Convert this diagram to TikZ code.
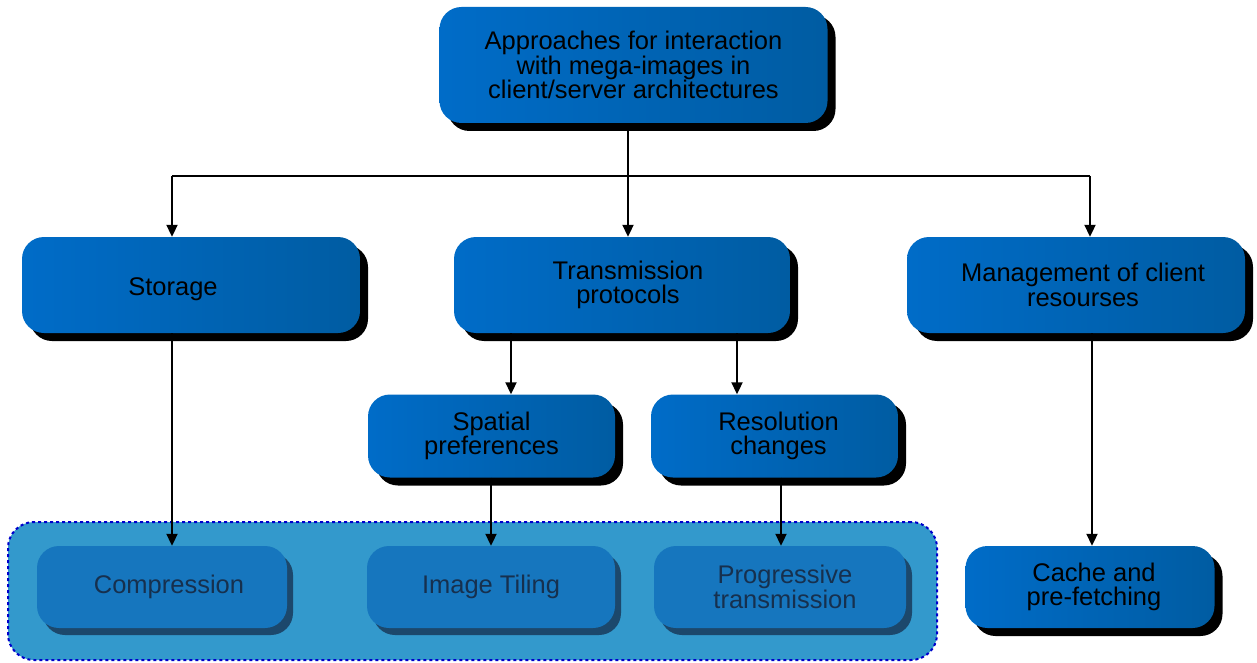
\documentclass[tikz,border=0pt]{standalone}
\usepackage{fontspec}
\setmainfont{Liberation Sans}
\usetikzlibrary{shadows,arrows.meta}
\definecolor{bl}{RGB}{0,108,200}
\definecolor{br}{RGB}{0,92,162}
\definecolor{grp}{RGB}{51,153,204}
\definecolor{fbox}{RGB}{22,118,190}
\definecolor{fshad}{RGB}{28,72,108}
\definecolor{ftxt}{RGB}{22,48,78}
\definecolor{dash}{RGB}{0,0,204}
\tikzset{
  mainbox/.style={rounded corners=22pt, left color=bl, right color=br, draw=none,
    drop shadow={shadow xshift=8pt, shadow yshift=-8pt, fill=black, opacity=1},
    align=center, font=\fontsize{25.5}{24.5}\selectfont, text=black, inner sep=0pt},
  fadebox/.style={rounded corners=22pt, fill=fbox, draw=none,
    drop shadow={shadow xshift=6pt, shadow yshift=-7pt, fill=fshad, opacity=1},
    align=center, font=\fontsize{25.5}{24.5}\selectfont, text=ftxt, inner sep=0pt},
  group/.style={rounded corners=26pt, fill=grp, draw=dash, dashed, line width=2pt},
  arr/.style={-{Triangle[length=12pt,width=11pt]}, line width=2pt, black},
  ln/.style={line width=2pt, black}
}
\begin{document}
\begin{tikzpicture}[x=1pt,y=-1pt]
\useasboundingbox (0,0) rectangle (1257,663);
\node[mainbox, minimum width=388pt, minimum height=116pt] (top) at (633.5,65)
  {Approaches for interaction\\with mega-images in\\client/server architectures};
\node[mainbox, minimum width=338pt, minimum height=96pt] (storage) at (191,285)
  {\raisebox{0pt}[\dimexpr\height+9pt\relax]{Storage}\hspace*{36pt}};
\node[mainbox, minimum width=336pt, minimum height=96pt] (trans) at (622,285)
  {\hspace*{12pt}Transmission\\\hspace*{12pt}protocols};
\node[mainbox, minimum width=338pt, minimum height=96pt] (mgmt) at (1076,285)
  {\hspace*{14pt}Management of client\\\hspace*{14pt}resourses};
\node[mainbox, minimum width=247pt, minimum height=83pt] (spatial) at (491.5,436)
  {Spatial\\preferences};
\node[mainbox, minimum width=247pt, minimum height=83pt] (resol) at (774.5,436)
  {\hspace*{8pt}Resolution\\\hspace*{8pt}changes};
\node[group, minimum width=929pt, minimum height=138pt] (grp) at (472.5,591) {};
\node[fadebox, minimum width=250pt, minimum height=82pt] (comp) at (162,587)
  {\hspace*{14pt}Compression};
\node[fadebox, minimum width=248pt, minimum height=82pt] (tiling) at (491,587)
  {Image Tiling};
\node[fadebox, minimum width=252pt, minimum height=82pt] (prog) at (780,587)
  {\hspace*{10pt}Progressive\\\hspace*{10pt}transmission};
\node[mainbox, minimum width=249pt, minimum height=82pt] (cache) at (1090,587)
  {\hspace*{8pt}Cache and\\\hspace*{8pt}pre-fetching};
% connectors
\coordinate (bus) at (628,176);
\coordinate (bl) at (172,176);
\coordinate (br) at (1090,176);
\draw[ln] (bus |- top.south) -- (bus);
\draw[ln] (bl) -- (br);
\draw[arr] (bl) -- (bl |- storage.north);
\draw[arr] (bus) -- (bus |- trans.north);
\draw[arr] (br) -- (br |- mgmt.north);
\coordinate (x1) at (172,0);
\draw[arr] (x1 |- storage.south) -- (x1 |- comp.north);
\coordinate (x2) at (511,0);
\draw[arr] (x2 |- trans.south) -- (x2 |- spatial.north);
\coordinate (x3) at (737,0);
\draw[arr] (x3 |- trans.south) -- (x3 |- resol.north);
\coordinate (x4) at (491,0);
\draw[arr] (x4 |- spatial.south) -- (x4 |- tiling.north);
\coordinate (x5) at (781,0);
\draw[arr] (x5 |- resol.south) -- (x5 |- prog.north);
\coordinate (x6) at (1092,0);
\draw[arr] (x6 |- mgmt.south) -- (x6 |- cache.north);
\end{tikzpicture}
\end{document}
